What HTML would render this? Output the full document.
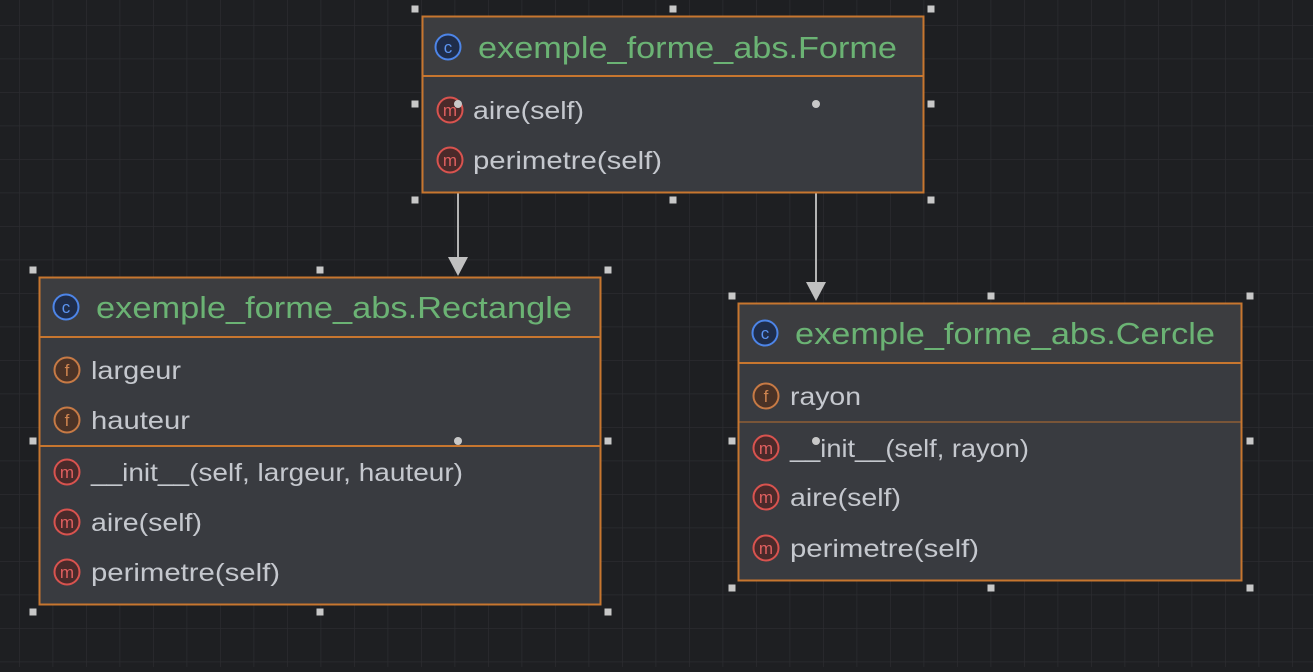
<!DOCTYPE html>
<html><head><style>
body{margin:0;width:1313px;height:667px;overflow:hidden;background:#1e1f22;font-family:"Liberation Sans",sans-serif}
</style></head><body>
<svg width="1313" height="667" xmlns="http://www.w3.org/2000/svg" font-family="Liberation Sans, sans-serif">
<defs>
<pattern id="g" x="19" y="25" width="33.5" height="33.5" patternUnits="userSpaceOnUse">
<path d="M0 0H33.5M0 0V33.5" stroke="#2b2c30" stroke-width="1.5" fill="none"/>
</pattern>
</defs>
<rect width="1313" height="667" fill="url(#g)"/>
<line x1="458" y1="193" x2="458" y2="258" stroke="#b4b4b4" stroke-width="2"/>
<polygon points="448,257 468,257 458,276" fill="#c0c0c0"/>
<line x1="816" y1="193" x2="816" y2="283" stroke="#b4b4b4" stroke-width="2"/>
<polygon points="806,282 826,282 816,301" fill="#c0c0c0"/>

<!-- Forme -->
<rect x="422.5" y="16.5" width="501" height="176" fill="#393b40" stroke="#c7762f" stroke-width="2"/>
<rect x="423.5" y="17.5" width="499" height="58" fill="#3c3d40"/>
<line x1="423" y1="76" x2="923" y2="76" stroke="#c7762f" stroke-width="2"/>
<circle cx="448" cy="47" r="12.5" fill="#1f2d4a" stroke="#4d85e8" stroke-width="2"/>
<text x="448" y="53" font-size="17" fill="#5c94f0" text-anchor="middle">c</text>
<text x="478" y="58" font-size="31" fill="#6bb374" textLength="419" lengthAdjust="spacingAndGlyphs">exemple_forme_abs.Forme</text>
<g font-size="25" fill="#c5c8ce">
<circle cx="450" cy="110" r="12.5" fill="#4a2a2a" stroke="#d9534f" stroke-width="2"/><text x="450" y="116" font-size="17" fill="#e06060" text-anchor="middle">m</text>
<text x="473" y="119" textLength="111" lengthAdjust="spacingAndGlyphs">aire(self)</text>
<circle cx="450" cy="160" r="12.5" fill="#4a2a2a" stroke="#d9534f" stroke-width="2"/><text x="450" y="166" font-size="17" fill="#e06060" text-anchor="middle">m</text>
<text x="473" y="169" textLength="189" lengthAdjust="spacingAndGlyphs">perimetre(self)</text>
</g>

<!-- Rectangle -->
<rect x="39.5" y="277.5" width="561" height="327" fill="#393b40" stroke="#c7762f" stroke-width="2"/>
<rect x="40.5" y="278.5" width="559" height="58" fill="#3c3d40"/>
<line x1="40" y1="337" x2="600" y2="337" stroke="#c7762f" stroke-width="2"/>
<line x1="40" y1="446" x2="600" y2="446" stroke="#c7762f" stroke-width="2"/>
<circle cx="66" cy="307" r="12.5" fill="#1f2d4a" stroke="#4d85e8" stroke-width="2"/>
<text x="66" y="313" font-size="17" fill="#5c94f0" text-anchor="middle">c</text>
<text x="96" y="318" font-size="31" fill="#6bb374" textLength="476" lengthAdjust="spacingAndGlyphs">exemple_forme_abs.Rectangle</text>
<g font-size="25" fill="#c5c8ce">
<circle cx="67" cy="370" r="12.5" fill="#4a3226" stroke="#c77a45" stroke-width="2"/><text x="67" y="376" font-size="17" fill="#d08550" text-anchor="middle">f</text>
<text x="91" y="379" textLength="90" lengthAdjust="spacingAndGlyphs">largeur</text>
<circle cx="67" cy="420" r="12.5" fill="#4a3226" stroke="#c77a45" stroke-width="2"/><text x="67" y="426" font-size="17" fill="#d08550" text-anchor="middle">f</text>
<text x="91" y="429" textLength="99" lengthAdjust="spacingAndGlyphs">hauteur</text>
<circle cx="67" cy="472" r="12.5" fill="#4a2a2a" stroke="#d9534f" stroke-width="2"/><text x="67" y="478" font-size="17" fill="#e06060" text-anchor="middle">m</text>
<text x="91" y="481" textLength="372" lengthAdjust="spacingAndGlyphs">__init__(self, largeur, hauteur)</text>
<circle cx="67" cy="522" r="12.5" fill="#4a2a2a" stroke="#d9534f" stroke-width="2"/><text x="67" y="528" font-size="17" fill="#e06060" text-anchor="middle">m</text>
<text x="91" y="531" textLength="111" lengthAdjust="spacingAndGlyphs">aire(self)</text>
<circle cx="67" cy="572" r="12.5" fill="#4a2a2a" stroke="#d9534f" stroke-width="2"/><text x="67" y="578" font-size="17" fill="#e06060" text-anchor="middle">m</text>
<text x="91" y="581" textLength="189" lengthAdjust="spacingAndGlyphs">perimetre(self)</text>
</g>

<!-- Cercle -->
<rect x="738.5" y="303.5" width="503" height="277" fill="#393b40" stroke="#c7762f" stroke-width="2"/>
<rect x="739.5" y="304.5" width="501" height="58" fill="#3c3d40"/>
<line x1="739" y1="363" x2="1241" y2="363" stroke="#c7762f" stroke-width="2"/>
<line x1="739" y1="422" x2="1241" y2="422" stroke="#c7762f" stroke-width="1.5" opacity="0.6"/>
<circle cx="765" cy="333" r="12.5" fill="#1f2d4a" stroke="#4d85e8" stroke-width="2"/>
<text x="765" y="339" font-size="17" fill="#5c94f0" text-anchor="middle">c</text>
<text x="795" y="344" font-size="31" fill="#6bb374" textLength="420" lengthAdjust="spacingAndGlyphs">exemple_forme_abs.Cercle</text>
<g font-size="25" fill="#c5c8ce">
<circle cx="766" cy="396" r="12.5" fill="#4a3226" stroke="#c77a45" stroke-width="2"/><text x="766" y="402" font-size="17" fill="#d08550" text-anchor="middle">f</text>
<text x="790" y="405" textLength="71" lengthAdjust="spacingAndGlyphs">rayon</text>
<circle cx="766" cy="448" r="12.5" fill="#4a2a2a" stroke="#d9534f" stroke-width="2"/><text x="766" y="454" font-size="17" fill="#e06060" text-anchor="middle">m</text>
<text x="790" y="457" textLength="239" lengthAdjust="spacingAndGlyphs">__init__(self, rayon)</text>
<circle cx="766" cy="497" r="12.5" fill="#4a2a2a" stroke="#d9534f" stroke-width="2"/><text x="766" y="503" font-size="17" fill="#e06060" text-anchor="middle">m</text>
<text x="790" y="506" textLength="111" lengthAdjust="spacingAndGlyphs">aire(self)</text>
<circle cx="766" cy="548" r="12.5" fill="#4a2a2a" stroke="#d9534f" stroke-width="2"/><text x="766" y="554" font-size="17" fill="#e06060" text-anchor="middle">m</text>
<text x="790" y="557" textLength="189" lengthAdjust="spacingAndGlyphs">perimetre(self)</text>
</g>

<g fill="#c8c8c8">
<rect x="411.5" y="5.5" width="7" height="7"/><rect x="669.5" y="5.5" width="7" height="7"/><rect x="927.5" y="5.5" width="7" height="7"/>
<rect x="411.5" y="100.5" width="7" height="7"/><rect x="927.5" y="100.5" width="7" height="7"/>
<rect x="411.5" y="196.5" width="7" height="7"/><rect x="669.5" y="196.5" width="7" height="7"/><rect x="927.5" y="196.5" width="7" height="7"/>
<rect x="29.5" y="266.5" width="7" height="7"/><rect x="316.5" y="266.5" width="7" height="7"/><rect x="604.5" y="266.5" width="7" height="7"/>
<rect x="29.5" y="437.5" width="7" height="7"/><rect x="604.5" y="437.5" width="7" height="7"/>
<rect x="29.5" y="608.5" width="7" height="7"/><rect x="316.5" y="608.5" width="7" height="7"/><rect x="604.5" y="608.5" width="7" height="7"/>
<rect x="728.5" y="292.5" width="7" height="7"/><rect x="987.5" y="292.5" width="7" height="7"/><rect x="1246.5" y="292.5" width="7" height="7"/>
<rect x="728.5" y="437.5" width="7" height="7"/><rect x="1246.5" y="437.5" width="7" height="7"/>
<rect x="728.5" y="584.5" width="7" height="7"/><rect x="987.5" y="584.5" width="7" height="7"/><rect x="1246.5" y="584.5" width="7" height="7"/>
<circle cx="458" cy="104" r="4"/><circle cx="816" cy="104" r="4"/><circle cx="458" cy="441" r="4"/><circle cx="816" cy="441" r="4"/>
</g>
</svg>
</body></html>
